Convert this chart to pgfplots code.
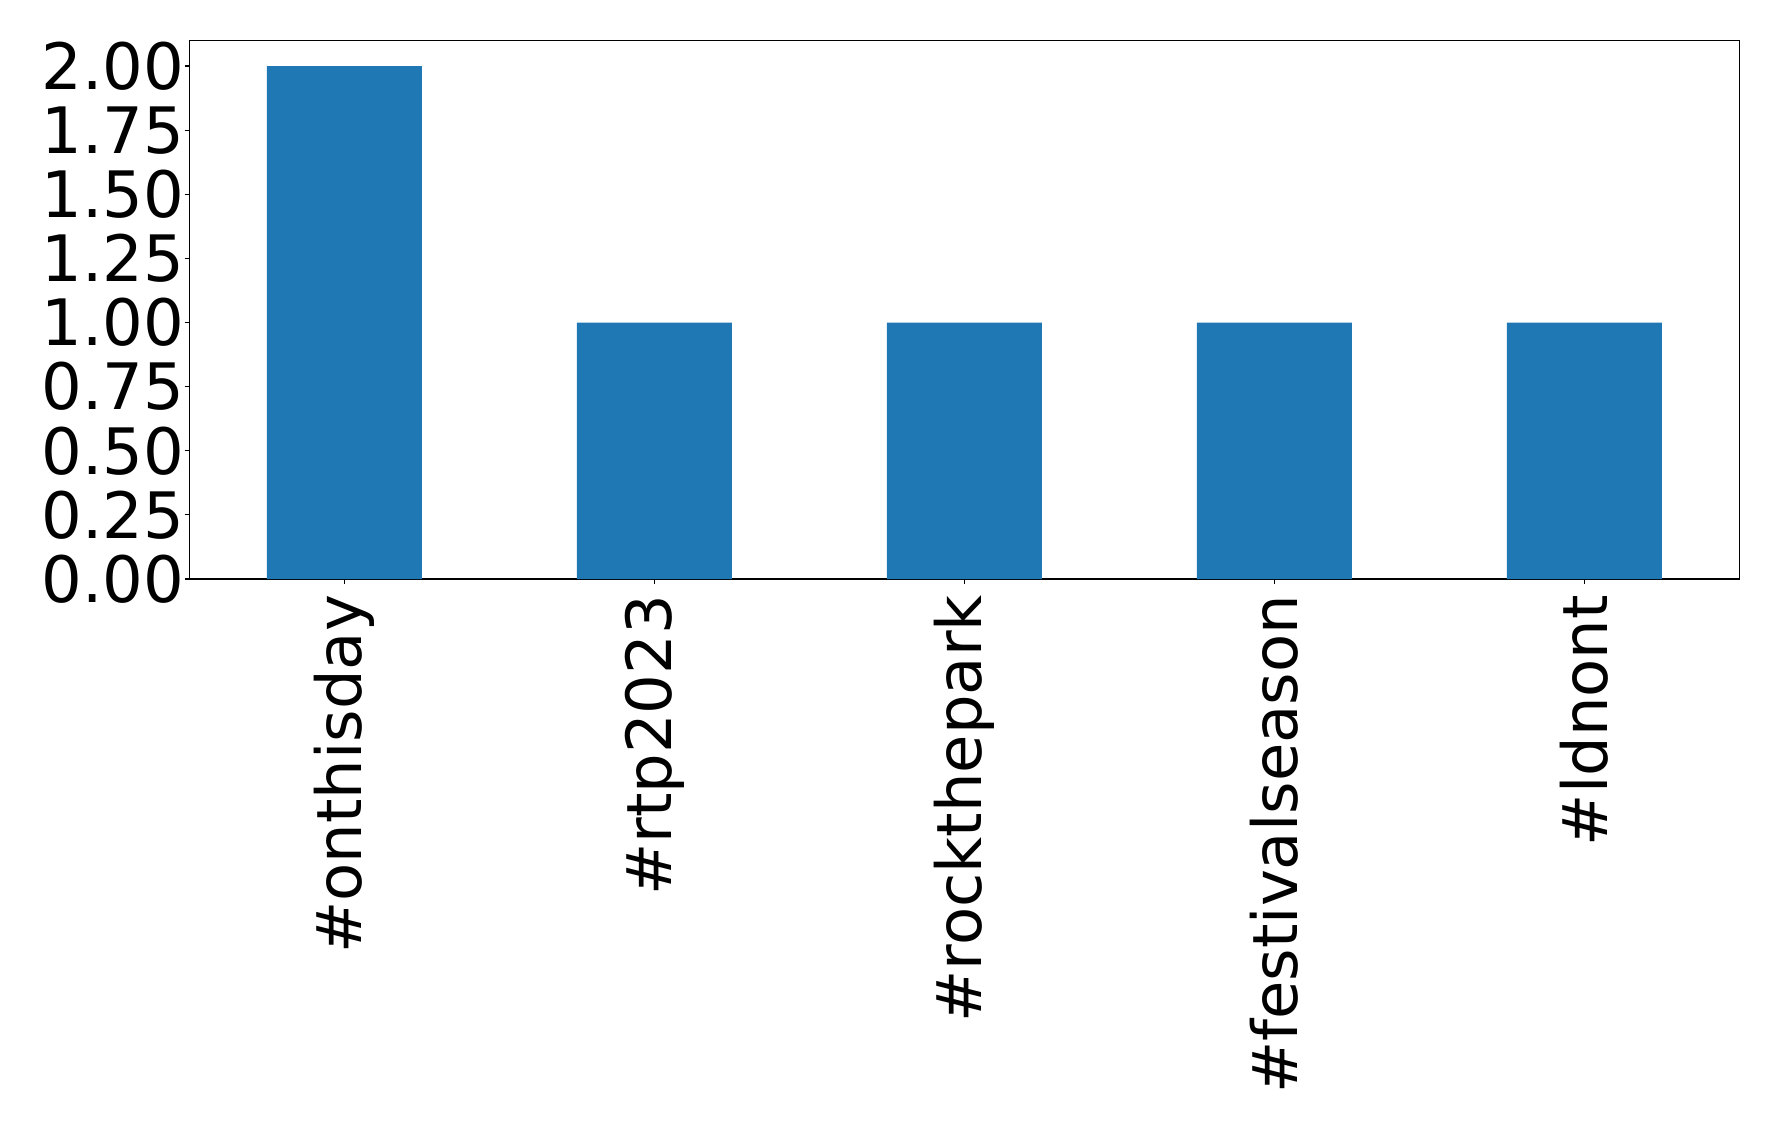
\documentclass[border=0pt]{standalone}
\usepackage{fontspec}
\setmainfont{DejaVu Sans}
\usepackage{pgfplots}
\pgfplotsset{compat=1.18}
\definecolor{mplblue}{HTML}{1F77B4}
\begin{document}
\begin{tikzpicture}
\begin{axis}[
  scale only axis,
  width=774.9pt, height=269.3pt,
  xmin=-0.5, xmax=4.5, ymin=0, ymax=2.1,
  ybar, bar width=0.5,
  axis line style={line width=0.6pt},
  tick style={line width=0.6pt, black},
  tick align=outside,
  major tick length=2.35pt,
  xtick={0,1,2,3,4},
  xticklabels={\#onthisday,\#rtp2023,\#rockthepark,\#festivalseason,\#ldnont},
  ytick={0,0.25,0.5,0.75,1,1.25,1.5,1.75,2},
  yticklabel style={/pgf/number format/fixed, /pgf/number format/fixed zerofill, /pgf/number format/precision=2, /pgf/number format/assume math mode=true},
  yticklabel style={font=\fontsize{32}{38}\selectfont, inner sep=0pt},
  xticklabel style={font=\fontsize{31.2}{37}\selectfont, rotate=90, anchor=east, inner sep=0pt, xshift=-5.5pt},
  xtick pos=bottom, ytick pos=left,
]
\addplot[fill=mplblue, draw=none] coordinates {(0,2) (1,1) (2,1) (3,1) (4,1)};
\end{axis}
\path (-94.75pt,-274.5pt) rectangle (794.25pt,289.5pt);
\end{tikzpicture}
\end{document}
